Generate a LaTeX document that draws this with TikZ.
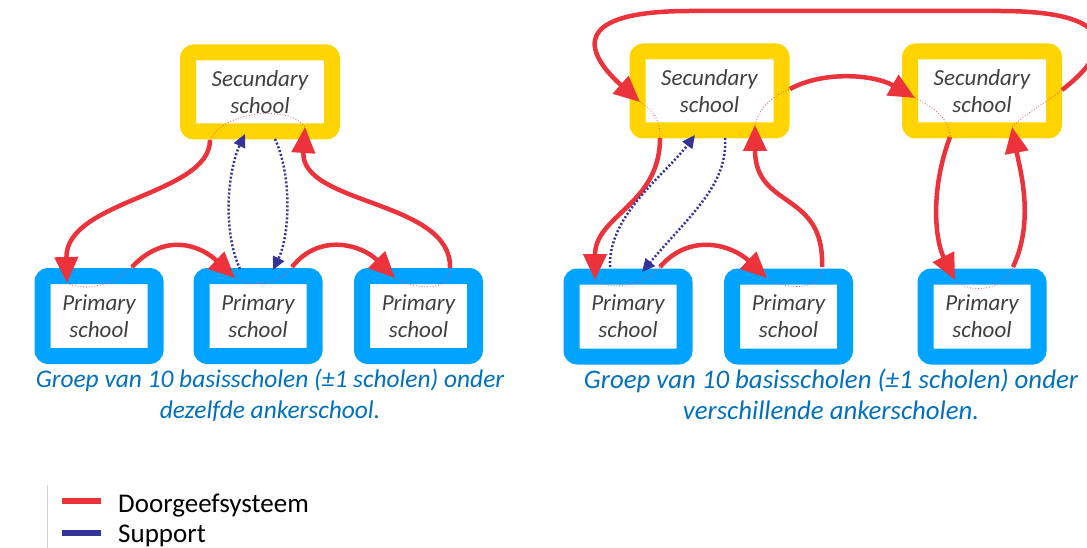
\documentclass[tikz,border=0pt]{standalone}
\usepackage{fontspec}
\setmainfont{Carlito}
\usepackage{tikz}
\usetikzlibrary{arrows.meta}
\definecolor{sy}{RGB}{255, 212, 0}
\definecolor{pb}{RGB}{0, 163, 255}
\definecolor{rr}{RGB}{236, 50, 58}
\definecolor{bb}{RGB}{51, 51, 153}
\definecolor{tt}{RGB}{64, 64, 64}
\definecolor{cb}{RGB}{0, 112, 192}

\begin{document}
\begin{tikzpicture}[
sec/.style={rectangle, rounded corners=6pt, draw=sy, line width=16pt, fill=white, minimum width=144pt, minimum height=79pt, text=tt, align=center, font=\fontsize{23}{27}\selectfont\itshape},
prim/.style={sec, draw=pb, minimum width=113pt, minimum height=80pt},
pass/.style={line width=4.5pt, color=rr, -{Triangle[length=26pt,width=23pt]}},
thru/.style={line width=0.8pt, color=rr!85, dotted},
supp/.style={line width=2.5pt, color=bb, dash pattern=on 2pt off 2pt, -{Triangle[length=13pt,width=12pt]}},
capt/.style={anchor=north, inner sep=0pt, align=center, text=cb, font=\fontsize{25.4}{31}\selectfont\itshape}]
\useasboundingbox (0pt, 0pt) rectangle (1087pt, -548pt);
\clip (0pt, 0pt) rectangle (1087pt, -548pt);
% left group
\node (1) [sec] at (260.0pt, -92.0pt) {Secundary\\school};
\node (2) [prim] at (99.0pt, -316.0pt) {Primary\\school};
\node (3) [prim] at (258.0pt, -316.0pt) {Primary\\school};
\node (4) [prim] at (418.5pt, -316.0pt) {Primary\\school};
% right group
\node (5) [sec] at (709.5pt, -91.0pt) {Secundary\\school};
\node (6) [sec] at (982.0pt, -91.0pt) {Secundary\\school};
\node (7) [prim] at (628.0pt, -316.5pt) {Primary\\school};
\node (8) [prim] at (788.5pt, -316.5pt) {Primary\\school};
\node (9) [prim] at (982.0pt, -316.5pt) {Primary\\school};
% end points, left group
\coordinate (a1) at (210.0pt, -140.0pt);
\coordinate (a2) at (67.0pt, -283.0pt);
\coordinate (a3) at (132.0pt, -267.0pt);
\coordinate (a4) at (235.0pt, -278.0pt);
\coordinate (a5) at (292.0pt, -267.0pt);
\coordinate (a6) at (395.0pt, -278.0pt);
\coordinate (a7) at (450.0pt, -268.0pt);
\coordinate (a8) at (305.0pt, -127.0pt);
\coordinate (a9) at (240.0pt, -269.0pt);
\coordinate (a10) at (245.0pt, -134.0pt);
\coordinate (a11) at (275.0pt, -139.0pt);
\coordinate (a12) at (273.0pt, -270.0pt);
% end points, right group
\coordinate (b1) at (1062.0pt, -90.0pt);
\coordinate (b2) at (640.0pt, -102.0pt);
\coordinate (b3) at (660.0pt, -138.0pt);
\coordinate (b4) at (595.0pt, -280.0pt);
\coordinate (b5) at (660.0pt, -267.0pt);
\coordinate (b6) at (767.0pt, -278.0pt);
\coordinate (b7) at (822.0pt, -267.0pt);
\coordinate (b8) at (755.0pt, -125.0pt);
\coordinate (b9) at (790.0pt, -89.0pt);
\coordinate (b10) at (915.0pt, -98.0pt);
\coordinate (b11) at (950.0pt, -137.0pt);
\coordinate (b12) at (955.0pt, -280.0pt);
\coordinate (b13) at (1013.0pt, -267.0pt);
\coordinate (b14) at (1012.0pt, -127.0pt);
\coordinate (b15) at (610.0pt, -267.0pt);
\coordinate (b16) at (695.0pt, -135.0pt);
\coordinate (b17) at (725.0pt, -138.0pt);
\coordinate (b18) at (642.0pt, -272.0pt);
% doorgeefsysteem, left
\draw [pass] (a1) .. controls (210pt, -195pt) and (65pt, -200pt) .. (a2);
\draw [thru] (a2) .. controls (85pt, -292pt) and (115pt, -285pt) .. (a3);
\draw [pass] (a3) .. controls (165pt, -232pt) and (200pt, -245pt) .. (a4);
\draw [thru] (a4) .. controls (250pt, -288pt) and (280pt, -285pt) .. (a5);
\draw [pass] (a5) .. controls (320pt, -232pt) and (362pt, -245pt) .. (a6);
\draw [thru] (a6) .. controls (420pt, -292pt) and (452pt, -290pt) .. (a7);
\draw [pass] (a7) .. controls (452pt, -200pt) and (300pt, -205pt) .. (a8);
\draw [thru] (a1) .. controls (225pt, -110pt) and (290pt, -105pt) .. (a8);
% support, left
\draw [supp] (a9) .. controls (222pt, -230pt) and (228pt, -170pt) .. (a10);
\draw [supp] (a11) .. controls (292pt, -175pt) and (290pt, -235pt) .. (a12);
% doorgeefsysteem, right
\draw [pass] (b1) .. controls (1120pt, -45pt) and (1110pt, -11pt) .. (1000pt, -11pt) -- (690pt, -11pt) .. controls (555pt, -11pt) and (595pt, -62pt) .. (b2);
\draw [thru] (b2) .. controls (655pt, -112pt) and (660pt, -120pt) .. (b3);
\draw [pass] (b3) .. controls (660pt, -205pt) and (595pt, -215pt) .. (b4);
\draw [thru] (b4) .. controls (612pt, -292pt) and (645pt, -285pt) .. (b5);
\draw [pass] (b5) .. controls (690pt, -232pt) and (732pt, -245pt) .. (b6);
\draw [thru] (b6) .. controls (785pt, -290pt) and (822pt, -292pt) .. (b7);
\draw [pass] (b7) .. controls (825pt, -190pt) and (755pt, -210pt) .. (b8);
\draw [thru] (b8) .. controls (760pt, -105pt) and (775pt, -95pt) .. (b9);
\draw [pass] (b9) .. controls (825pt, -70pt) and (875pt, -75pt) .. (b10);
\draw [thru] (b10) .. controls (935pt, -108pt) and (950pt, -120pt) .. (b11);
\draw [pass] (b11) .. controls (930pt, -190pt) and (935pt, -240pt) .. (b12);
\draw [thru] (b12) .. controls (970pt, -295pt) and (1005pt, -290pt) .. (b13);
\draw [pass] (b13) .. controls (1035pt, -220pt) and (1020pt, -170pt) .. (b14);
\draw [thru] (b14) .. controls (1030pt, -110pt) and (1050pt, -100pt) .. (b1);
% support, right
\draw [supp] (b15) .. controls (608pt, -215pt) and (665pt, -175pt) .. (b16);
\draw [supp] (b17) .. controls (728pt, -185pt) and (690pt, -215pt) .. (b18);
% captions
\node (c1) [capt] at (270.0pt, -369.0pt) {Groep van 10 basisscholen (±1 scholen) onder\\dezelfde ankerschool.};
\node (c2) [capt, font=\fontsize{26.8}{31}\selectfont\itshape] at (831.0pt, -369.0pt) {Groep van 10 basisscholen (±1 scholen) onder\\verschillende ankerscholen.};
% legend
\coordinate (g1) at (47.0pt, -485.0pt);
\coordinate (g2) at (47.0pt, -548.0pt);
\coordinate (l1) at (62.0pt, -501.0pt);
\coordinate (l2) at (101.0pt, -501.0pt);
\coordinate (l3) at (62.0pt, -533.0pt);
\coordinate (l4) at (101.0pt, -533.0pt);
\draw [line width=0.8pt, color=black!18] (g1) -- (g2);
\draw [line width=6pt, color=rr] (l1) -- (l2);
\draw [line width=6pt, color=bb] (l3) -- (l4);
\node (t1) [anchor=base west, inner sep=0pt, font=\fontsize{27}{30}\selectfont] at (118.0pt, -512.0pt) {Doorgeefsysteem};
\node (t2) [anchor=base west, inner sep=0pt, font=\fontsize{27}{30}\selectfont] at (118.0pt, -542.0pt) {Support};
\end{tikzpicture}
\end{document}
